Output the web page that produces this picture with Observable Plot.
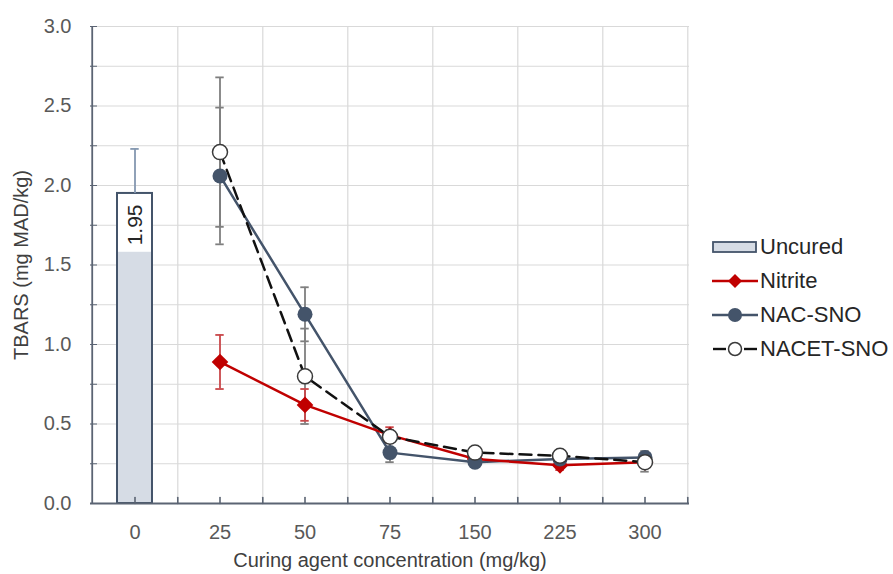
<!DOCTYPE html>
<html><head><meta charset="utf-8">
<script src="https://cdn.jsdelivr.net/npm/d3@7"></script>
<script src="https://cdn.jsdelivr.net/npm/@observablehq/plot@0.6"></script>
<style>
body{margin:0;background:#fff;font-family:"Liberation Sans",Arial,sans-serif;}
#wrap{position:relative;width:893px;height:574px;}
#legend{position:absolute;left:712px;top:230px;font-size:22px;color:#262626;}
.item{display:flex;align-items:center;height:34px;}
.item svg{margin-right:2px;}
</style></head><body>
<div id="wrap"><div id="chart"></div><div id="legend"></div></div>
<script>
// ---- data ----
const concentrations = ["0", "25", "50", "75", "150", "225", "300"];
const treatmentConcs = ["25", "50", "75", "150", "225", "300"];
const uncuredValue = 1.95;
const uncuredError = 0.28;
const nitriteValues = [0.89, 0.62, 0.43, 0.28, 0.24, 0.26];
const nitriteErrors = [0.17, 0.10, 0.05, 0.03, 0.03, 0.03];
const nacValues = [2.06, 1.19, 0.32, 0.26, 0.28, 0.29];
const nacErrors = [0.43, 0.17, 0.06, 0.03, 0.02, 0.04];
const nacetValues = [2.21, 0.80, 0.42, 0.32, 0.30, 0.26];
const nacetErrors = [0.47, 0.30, 0.04, 0.02, 0.02, 0.06];
const yMajorTicks = [0, 0.5, 1.0, 1.5, 2.0, 2.5, 3.0];
const yMinorTicks = [0.25, 0.75, 1.25, 1.75, 2.25, 2.75];
const yGridTicks = [0.25, 0.5, 0.75, 1, 1.25, 1.5, 1.75, 2, 2.25, 2.5, 2.75, 3];

const C = {
  uncuredFill: "#d6dce5", uncuredStroke: "#44546a", uncuredErr: "#8497b0",
  nitrite: "#c00000", nitriteErr: "#c9474a",
  nac: "#44546a", nacet: "#111111", err: "#7f7f7f",
  grid: "#d9d9d9", axis: "#5b6473", text: "#595959", title: "#404040"
};

const uncured = [{conc: concentrations[0], value: uncuredValue, err: uncuredError}];
function rows(name, vals, errs) {
  return treatmentConcs.map((c, i) => ({series: name, conc: c, value: vals[i], err: errs[i]}));
}
const nitrite = rows("Nitrite", nitriteValues, nitriteErrors);
const nac = rows("NAC-SNO", nacValues, nacErrors);
const nacet = rows("NACET-SNO", nacetValues, nacetErrors);

// ---- layout ----
const W = 893, H = 574, mL = 90, mR = 204, mT = 26, mB = 71;
const bw = (W - mL - mR) / concentrations.length;
const barInset = 25;
const capInset = (bw - 9) / 2;
const labelBoxSpan = 0.37;

function errorBars(data, color) {
  return [
    Plot.ruleX(data, {x: "conc", y1: d => d.value - d.err, y2: d => d.value + d.err, stroke: color, strokeWidth: 1.8}),
    Plot.tickY(data, {x: "conc", y: d => d.value + d.err, stroke: color, strokeWidth: 1.8, inset: capInset}),
    Plot.tickY(data, {x: "conc", y: d => d.value - d.err, stroke: color, strokeWidth: 1.8, inset: capInset})
  ];
}
const tickShape = {draw(ctx, l) { ctx.moveTo(0, 0); ctx.lineTo(0, -l); }};

const chart = Plot.plot({
  width: W, height: H,
  marginLeft: mL, marginRight: mR, marginTop: mT, marginBottom: mB,
  style: {fontFamily: '"Liberation Sans", Arial, sans-serif', color: C.text, background: "white"},
  x: {type: "band", domain: concentrations, padding: 0, label: null},
  y: {domain: [0, 3], label: null},
  marks: [
    Plot.gridY(yGridTicks, {stroke: C.grid, strokeOpacity: 1, strokeWidth: 1.2}),
    Plot.ruleX(concentrations, {x: d => d, dx: bw / 2, stroke: C.grid, strokeWidth: 1.2}),
    // uncured bar
    Plot.barY(uncured, {x: "conc", y: "value", fill: C.uncuredFill, insetLeft: barInset, insetRight: barInset}),
    Plot.barY(uncured, {x: "conc", y1: d => d.value - labelBoxSpan, y2: "value", fill: "white", insetLeft: barInset, insetRight: barInset}),
    Plot.barY(uncured, {x: "conc", y: "value", fill: "none", stroke: C.uncuredStroke, strokeWidth: 2, insetLeft: barInset, insetRight: barInset}),
    Plot.ruleX(uncured, {x: "conc", y1: "value", y2: d => d.value + d.err, stroke: C.uncuredErr, strokeWidth: 1.8}),
    Plot.tickY(uncured, {x: "conc", y: d => d.value + d.err, stroke: C.uncuredErr, strokeWidth: 1.8, inset: capInset}),
    Plot.text(uncured, {x: "conc", y: "value", text: d => d.value.toFixed(2), rotate: -90, textAnchor: "end", dy: 11, fontSize: 21, fill: "#262626"}),
    // error bars
    ...errorBars(nac, C.err),
    ...errorBars(nacet, C.err),
    ...errorBars(nitrite, C.nitriteErr),
    // lines
    Plot.line(nac, {x: "conc", y: "value", stroke: C.nac, strokeWidth: 2.5}),
    Plot.line(nitrite, {x: "conc", y: "value", stroke: C.nitrite, strokeWidth: 2.5}),
    Plot.line(nacet, {x: "conc", y: "value", stroke: C.nacet, strokeWidth: 2.5, strokeDasharray: "12,7"}),
    // markers
    Plot.dot(nitrite, {x: "conc", y: "value", symbol: "diamond2", r: 7.5, fill: C.nitrite, stroke: null}),
    Plot.dot(nac, {x: "conc", y: "value", r: 7.5, fill: C.nac}),
    Plot.dot(nacet, {x: "conc", y: "value", r: 7.5, fill: "white", stroke: "#3a3a3a", strokeWidth: 1.5}),
    // axes
    Plot.ruleY([0], {stroke: C.axis, strokeWidth: 1.8}),
    Plot.ruleX([concentrations[0]], {x: d => d, dx: -bw / 2, stroke: C.axis, strokeWidth: 1.8}),
    Plot.axisY(yMajorTicks, {tickSize: -7, tickPadding: 26, tickFormat: d => d.toFixed(1), stroke: C.axis, fill: C.text, fontSize: 20,
      label: null}),
    Plot.axisY(yMinorTicks, {tickSize: -7, tickFormat: () => "", stroke: C.axis, label: null}),
    Plot.axisY({tickSize: 0, ticks: [], label: "TBARS (mg MAD/kg)", labelAnchor: "center", labelOffset: 77, labelArrow: "none", fontSize: 20, fill: C.title}),
    Plot.axisX({tickSize: 0, tickPadding: 21, fill: C.text, fontSize: 20, label: null}),
    Plot.axisX({tickSize: 0, ticks: [], label: "Curing agent concentration (mg/kg)", labelAnchor: "center", labelOffset: 63, labelArrow: "none", fontSize: 20, fill: C.title}),
    Plot.vector(concentrations, {x: d => d, frameAnchor: "bottom", length: 6, anchor: "start", shape: tickShape, stroke: C.axis, strokeWidth: 1.6}),
    Plot.vector(concentrations, {x: d => d, frameAnchor: "bottom", length: 6, anchor: "start", shape: tickShape, dx: bw / 2, stroke: C.axis, strokeWidth: 1.6})
  ]
});
document.getElementById("chart").appendChild(chart);

// ---- legend ----
const legendItems = [
  {label: "Uncured", kind: "bar"},
  {label: "Nitrite", kind: "diamond", color: C.nitrite},
  {label: "NAC-SNO", kind: "circle", color: C.nac},
  {label: "NACET-SNO", kind: "open", color: C.nacet}
];
const legend = d3.select("#legend");
for (const it of legendItems) {
  const row = legend.append("div").attr("class", "item");
  const s = row.append("svg").attr("width", 46).attr("height", 20);
  if (it.kind === "bar") {
    s.append("rect").attr("x", 1).attr("y", 5).attr("width", 43).attr("height", 10)
      .attr("fill", C.uncuredFill).attr("stroke", C.uncuredStroke).attr("stroke-width", 1.8);
  } else if (it.kind === "diamond") {
    s.append("line").attr("x1", 0).attr("x2", 46).attr("y1", 10).attr("y2", 10).attr("stroke", it.color).attr("stroke-width", 2.4);
    s.append("path").attr("d", "M23,3L30,10L23,17L16,10Z").attr("fill", it.color);
  } else if (it.kind === "circle") {
    s.append("line").attr("x1", 0).attr("x2", 46).attr("y1", 10).attr("y2", 10).attr("stroke", it.color).attr("stroke-width", 2.4);
    s.append("circle").attr("cx", 23).attr("cy", 10).attr("r", 7).attr("fill", it.color);
  } else {
    s.append("line").attr("x1", 1).attr("x2", 14).attr("y1", 10).attr("y2", 10).attr("stroke", it.color).attr("stroke-width", 2.4);
    s.append("line").attr("x1", 32).attr("x2", 45).attr("y1", 10).attr("y2", 10).attr("stroke", it.color).attr("stroke-width", 2.4);
    s.append("circle").attr("cx", 23).attr("cy", 10).attr("r", 6.5).attr("fill", "white").attr("stroke", "#3a3a3a").attr("stroke-width", 1.5);
  }
  row.append("span").text(it.label);
}
</script></body></html>
